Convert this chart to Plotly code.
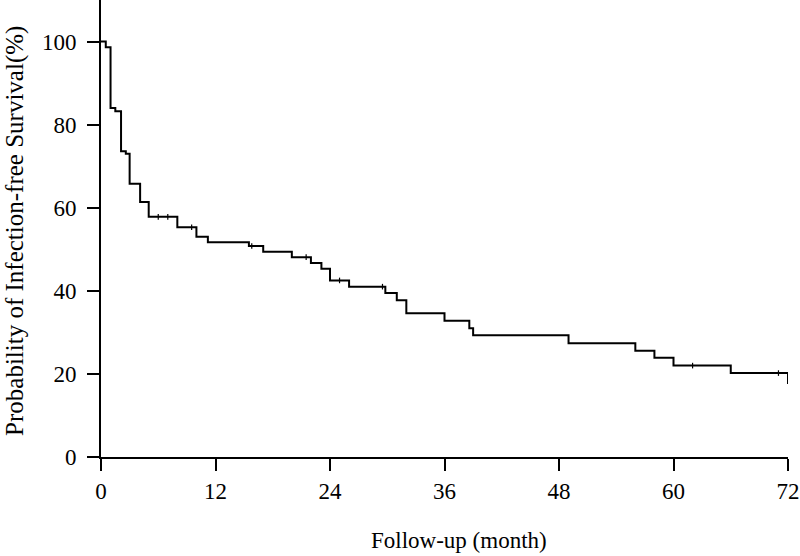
import numpy as np
import plotly.graph_objects as go

# Kaplan-Meier step points (month, survival %)
months = [0, 0.5, 1.0, 1.5, 2.1, 2.6, 3.0, 4.1, 5.0, 8.0, 10.0, 11.2, 15.5, 17.0,
          20.0, 22.0, 23.1, 24.0, 26.0, 29.8, 31.0, 32.0, 36.0, 38.6, 39.0, 49.0,
          56.0, 58.0, 60.0, 66.0, 72.0]
survival = [100, 98.6, 84.0, 83.2, 73.6, 73.0, 65.8, 61.4, 57.8, 55.3, 53.0, 51.7,
            50.8, 49.4, 48.1, 46.7, 45.3, 42.5, 41.0, 39.5, 37.7, 34.6, 32.8, 31.0,
            29.3, 27.4, 25.6, 23.9, 22.0, 20.2, 17.6]

# censored observations (month)
censored = [6.0, 7.0, 9.5, 15.8, 21.5, 25.0, 29.5, 62.0, 71.0]

x_ticks = [0, 12, 24, 36, 48, 60, 72]
y_ticks = [0, 20, 40, 60, 80, 100]

# survival level at each censor time, taken from the step curve
idx = np.searchsorted(months, censored, side="right") - 1
cens_y = [survival[i] for i in idx]

font = "Liberation Serif, Times New Roman, serif"

fig = go.Figure()
fig.add_trace(go.Scatter(x=months, y=survival, mode="lines", line_shape="hv",
                         line=dict(color="black", width=2), showlegend=False))
fig.add_trace(go.Scatter(x=censored, y=cens_y, mode="markers", showlegend=False,
                         marker=dict(symbol="line-ns", size=4,
                                     line=dict(color="black", width=1.2))))

axis_style = dict(ticks="outside", ticklen=12, tickwidth=2, tickcolor="black",
                  showline=True, linewidth=2, linecolor="black", showgrid=False,
                  zeroline=False, tickfont=dict(family=font, size=23, color="black"))
fig.update_xaxes(range=[0, 72], tickvals=x_ticks, **axis_style)
fig.update_yaxes(range=[0, 110], tickvals=y_ticks, ticklabelstandoff=6, **axis_style)

fig.update_layout(
    width=800, height=556,
    margin=dict(l=101, r=12, t=0, b=99, autoexpand=False),
    plot_bgcolor="white", paper_bgcolor="white",
    annotations=[
        dict(text="Follow-up (month)", xref="paper", yref="paper",
             x=0.521, y=-0.182, xanchor="center", yanchor="middle", showarrow=False,
             font=dict(family=font, size=23, color="black")),
        dict(text="Probability of Infection-free Survival(%)", xref="paper", yref="paper",
             x=-0.125, y=0.495, xanchor="center", yanchor="middle", showarrow=False,
             textangle=-90, font=dict(family=font, size=25, color="black")),
    ],
)

# drop the browser's default body margin so the 800x556 figure fills the window
fig.write_html("out.html", config={"displayModeBar": False},
               post_script="document.body.style.margin='0';")
